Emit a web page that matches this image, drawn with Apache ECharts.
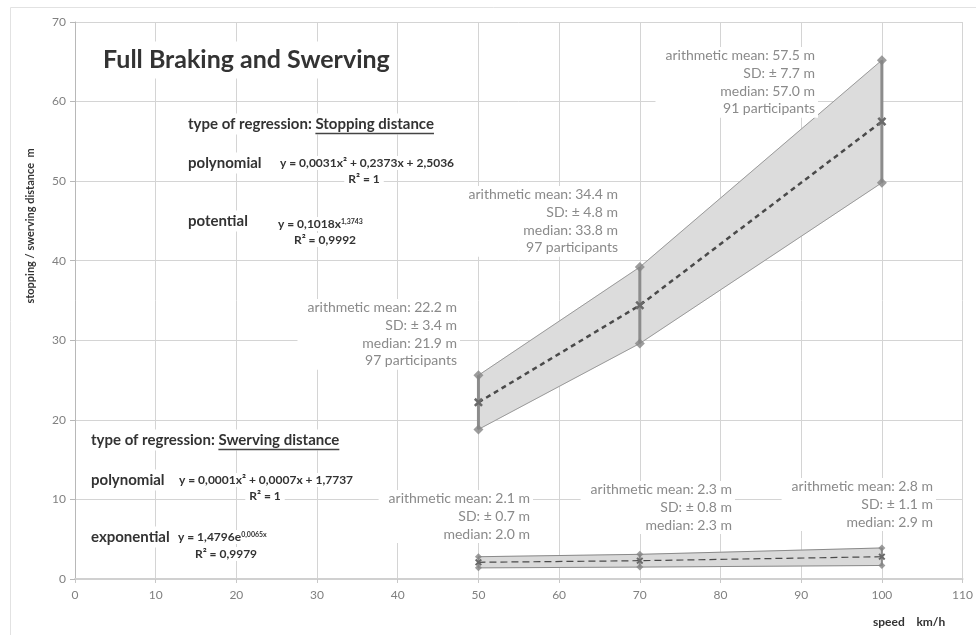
<!DOCTYPE html>
<html>
<head>
<meta charset="utf-8">
<script src="https://cdn.jsdelivr.net/npm/echarts@6/dist/echarts.min.js"></script>
<style>
  html, body { margin: 0; padding: 0; background: #fff; }
  #chart { width: 976px; height: 635px; }
</style>
</head>
<body>
<div id="chart"></div>
<script>
// speeds where the participants were measured
const speeds = [50, 70, 100]

// stopping distance (m)
const stopMean = [22.2, 34.4, 57.5]
const stopLow = [18.8, 29.6, 49.8]
const stopHigh = [25.6, 39.2, 65.2]

// swerving distance (m)
const swerveMean = [2.1, 2.3, 2.8]
const swerveLow = [1.4, 1.5, 1.7]
const swerveHigh = [2.8, 3.1, 3.9]

const stopStats = [
  ['arithmetic mean: 22.2 m', 'SD: ± 3.4 m', 'median: 21.9 m', '97 participants'],
  ['arithmetic mean: 34.4 m', 'SD: ± 4.8 m', 'median: 33.8 m', '97 participants'],
  ['arithmetic mean: 57.5 m', 'SD: ± 7.7 m', 'median: 57.0 m', '91 participants']
]
const swerveStats = [
  ['arithmetic mean: 2.1 m', 'SD: ± 0.7 m', 'median: 2.0 m'],
  ['arithmetic mean: 2.3 m', 'SD: ± 0.8 m', 'median: 2.3 m'],
  ['arithmetic mean: 2.8 m', 'SD: ± 1.1 m', 'median: 2.9 m']
]

const FONT = 'Lato, "Open Sans", sans-serif'
const DARK = '#333'
const STAT = '#8a8a8a'

const chart = echarts.init(document.getElementById('chart'))

// helpers ---------------------------------------------------------------
const measure = (txt, size, weight) => {
  const ctx = document.createElement('canvas').getContext('2d')
  ctx.font = `${weight} ${size}px Lato`
  return ctx.measureText(txt).width
}

const pairs = (xs, ys) => xs.map((x, i) => [x, ys[i]])

// light grey band between low and high, one polygon per segment
const bandFill = (low, high, fill) => ({
  type: 'custom', z: 1, silent: true,
  data: speeds.slice(1).map((s, i) => [speeds[i], low[i], high[i], s, low[i + 1], high[i + 1]]),
  encode: { x: [0, 3], y: [1, 2, 4, 5] },
  renderItem: (params, api) => {
    const pts = [
      api.coord([api.value(0), api.value(1)]),
      api.coord([api.value(3), api.value(4)]),
      api.coord([api.value(3), api.value(5)]),
      api.coord([api.value(0), api.value(2)])
    ]
    return { type: 'polygon', shape: { points: pts }, style: { fill: fill, stroke: fill, lineWidth: 0.6 } }
  }
})

const edge = (vals, color) => ({
  type: 'line', z: 2, data: pairs(speeds, vals), showSymbol: false,
  lineStyle: { color: color, width: 1 }
})

const errorBars = (low, high, width) => ({
  type: 'custom', z: 3,
  data: speeds.map((s, i) => [s, low[i], high[i]]),
  encode: { x: 0, y: [1, 2] },
  renderItem: (params, api) => {
    const a = api.coord([api.value(0), api.value(1)])
    const b = api.coord([api.value(0), api.value(2)])
    return {
      type: 'line',
      shape: { x1: a[0], y1: a[1], x2: b[0], y2: b[1] },
      style: { stroke: '#8c8c8c', lineWidth: width }
    }
  }
})

const diamonds = (low, high, size) => ({
  type: 'scatter', z: 4, symbol: 'diamond', symbolSize: size,
  data: pairs(speeds, low).concat(pairs(speeds, high)),
  itemStyle: { color: '#858585' }
})

const X_MARK = 'path://M2,0L5,3L8,0L10,2L7,5L10,8L8,10L5,7L2,10L0,8L3,5L0,2Z'

const meanLine = (vals, width, dash, size) => ({
  type: 'line', z: 5,
  data: pairs(speeds, vals),
  symbol: X_MARK, symbolSize: size, showAllSymbol: true,
  itemStyle: { color: '#6a6a6a' },
  lineStyle: { color: '#4a4a4a', width: width, type: dash }
})

// text blocks -------------------------------------------------------------
const txt = (text, x, y, size, opt) => Object.assign({
  type: 'text', x: x, y: y, z: 50,
  style: Object.assign({
    text: text, font: `${(opt && opt.weight) || 'normal'} ${size}px ${FONT}`,
    fill: DARK, align: 'left', verticalAlign: 'middle'
  }, (opt && opt.style) || {})
}, (opt && opt.el) || {})

const whiteBox = { backgroundColor: '#fff', padding: [3, 8] }

const statBlock = (lines, right, top) => txt(lines.join('\n'), right + 3, top + 2, 14, {
  style: { fill: STAT, align: 'right', verticalAlign: 'top', lineHeight: 17.7,
    backgroundColor: '#fff', padding: [0, 3, 0, 10] }
})

const HEAD = 15
const regHeader = (word, x, y) => {
  const pre = 'type of regression: '
  const w1 = measure(pre, HEAD, 'bold')
  const w2 = measure(word, HEAD, 'bold')
  return [
    txt(pre + word, x - 8, y, HEAD, { weight: 'bold', style: whiteBox }),
    { type: 'line', z: 51, shape: { x1: x + w1, y1: y + 9.5, x2: x + w1 + w2, y2: y + 9.5 },
      style: { stroke: '#444', lineWidth: 1.5 } }
  ]
}

const label = (text, x, y) => txt(text, x - 8, y, 15, { weight: 'bold', style: whiteBox })

const eqRich = {
  b: { font: `bold 12px ${FONT}`, fill: DARK },
  s: { font: `bold 7px ${FONT}`, fill: DARK, verticalAlign: 'top' }
}
const eq = (text, x, y, align) => txt(text, align ? x : x - 4, y, 12, {
  weight: 'bold', style: { align: align || 'left', rich: eqRich, backgroundColor: '#fff', padding: [1, 4] }
})

const graphics = [
  // outer chart frame
  { type: 'rect', shape: { x: 10.5, y: 7.5, width: 1000, height: 700 },
    style: { fill: 'none', stroke: '#e2e2e2', lineWidth: 1 }, z: 0 },
  txt('Full Braking and Swerving', 97, 60, 25, { weight: 'bold', style: { backgroundColor: '#fff', padding: [6, 6] } }),

  ...regHeader('Stopping distance', 188, 124),
  label('polynomial', 188, 163),
  eq('{b|y = 0,0031x² + 0,2373x + 2,5036}', 280, 163),
  eq('{b|R² = 1}', 364, 179, 'center'),
  label('potential', 188, 221),
  eq('{b|y = 0,1018x}{s|1,3743}', 278, 224),
  eq('{b|R² = 0,9992}', 325, 240, 'center'),

  ...regHeader('Swerving distance', 91, 440),
  label('polynomial', 91, 480),
  eq('{b|y = 0,0001x² + 0,0007x + 1,7737}', 179, 480),
  eq('{b|R² = 1}', 265, 496, 'center'),
  label('exponential', 91, 537),
  eq('{b|y = 1,4796e}{s|0,0065x}', 178, 537),
  eq('{b|R² = 0,9979}', 226, 554, 'center'),

  statBlock(stopStats[0], 457, 297),
  statBlock(stopStats[1], 618, 184),
  statBlock(stopStats[2], 815, 45),
  statBlock(swerveStats[0], 530, 488),
  statBlock(swerveStats[1], 732, 479),
  statBlock(swerveStats[2], 933, 476),

  // axis titles
  txt('stopping / swerving distance  m', 30, 226, 11, {
    weight: 'bold', style: { align: 'center' }, el: { rotation: Math.PI / 2 }
  }),
  txt('speed    km/h', 873, 622, 12, { weight: 'bold' })
]

const option = {
  backgroundColor: '#fff',
  animation: false,
  grid: { left: 75, right: 11, top: 22, bottom: 56 },
  xAxis: {
    type: 'value', min: 0, max: 110, interval: 10,
    axisLine: { show: true, lineStyle: { color: '#d0d0d0', width: 2 } },
    axisTick: { show: true, length: 4, lineStyle: { color: '#c8c8c8' } },
    axisLabel: { color: '#808080', fontSize: 12, fontFamily: FONT, margin: 10 },
    splitLine: { show: true, lineStyle: { color: '#d4d4d4', width: 1 } }
  },
  yAxis: {
    type: 'value', min: 0, max: 70, interval: 10,
    axisLine: { show: true, lineStyle: { color: '#b8b8b8', width: 1 } },
    axisTick: { show: true, length: 5, lineStyle: { color: '#b8b8b8' } },
    axisLabel: { color: '#808080', fontSize: 12, fontFamily: FONT, margin: 9 },
    splitLine: { show: true, lineStyle: { color: '#d4d4d4', width: 1 } }
  },
  series: [
    bandFill(stopLow, stopHigh, '#dcdcdc'),
    edge(stopLow, '#9a9a9a'),
    edge(stopHigh, '#9a9a9a'),
    errorBars(stopLow, stopHigh, 3),
    diamonds(stopLow, stopHigh, 10),
    meanLine(stopMean, 2.5, [5, 4], 9),

    bandFill(swerveLow, swerveHigh, '#d9d9d9'),
    edge(swerveLow, '#8a8a8a'),
    edge(swerveHigh, '#8a8a8a'),
    errorBars(swerveLow, swerveHigh, 2),
    diamonds(swerveLow, swerveHigh, 7),
    meanLine(swerveMean, 1.2, [7, 4], 7)
  ],
  graphic: graphics
}

chart.setOption(option)
</script>
</body>
</html>
